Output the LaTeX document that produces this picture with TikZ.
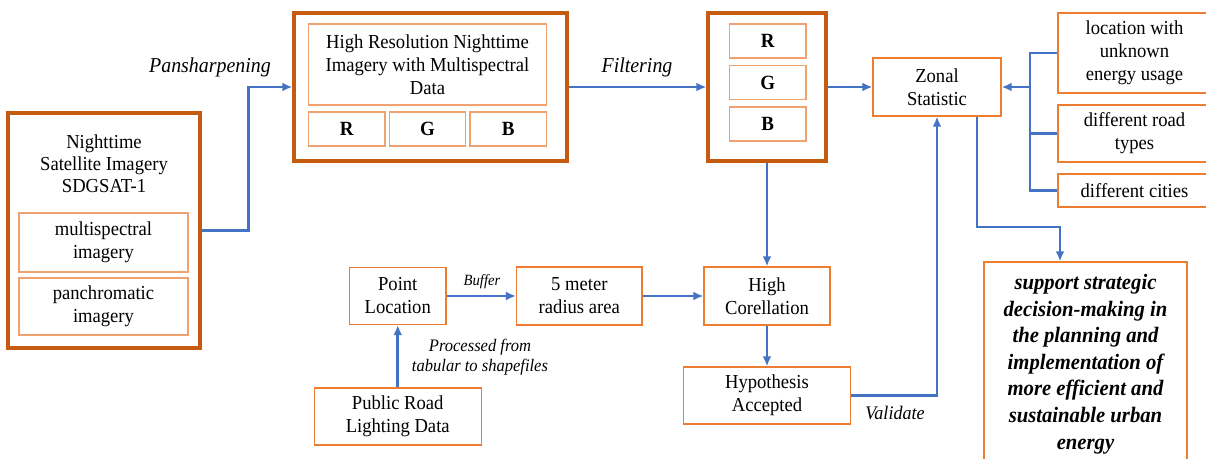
\documentclass[tikz,border=0pt]{standalone}
\usepackage{fontspec}
\setmainfont{Liberation Serif}[FakeStretch=0.94]
\usepackage{tikz}
\usetikzlibrary{arrows.meta}
\usetikzlibrary{calc}
\usetikzlibrary{positioning}

\definecolor{darkorange}{HTML}{C55A11}
\definecolor{lineorange}{HTML}{ED7D31}
\definecolor{paleorange}{HTML}{F0A170}
\definecolor{flowblue}{HTML}{4472C4}

\begin{document}
\begin{tikzpicture}[x=0.5pt, y=-0.5pt, >={Latex[length=5pt,width=4.5pt]},
    every node/.style={font=\fontsize{9.9}{11.5}\selectfont, align=center, inner sep=0pt},
    bigbox/.style={draw=darkorange, line width=1.7pt},
    thinbox/.style={draw=lineorange, line width=0.7pt},
    innerbox/.style={draw=paleorange, line width=0.7pt},
    band/.style={innerbox, minimum width=38.25pt, minimum height=17pt, font=\fontsize{10.1}{11.5}\selectfont\bfseries},
    flow/.style={draw=flowblue, line width=1.3pt},
    steplabel/.style={font=\fontsize{10.6}{12}\selectfont\itshape}]
  \path[use as bounding box] (0, 0) rectangle (1206, 459);

%%%%%%%%%%%% Satellite input
  \node[bigbox, minimum width=96pt, minimum height=117.5pt] at (104, 230.5) (sat) {};
  \node at (104, 164) (sattext) {Nighttime\\[-0.5pt]Satellite Imagery\\[-0.5pt]SDGSAT-1};
  \node[innerbox, minimum width=84.5pt, minimum height=29.5pt] at (103.5, 242.5) (multi) {multispectral\\imagery};
  \node[innerbox, minimum width=84.5pt, minimum height=28.5pt] at (103.5, 306.5) (pan) {panchromatic\\imagery};

%%%%%%%%%%%% Pansharpened imagery
  \node[bigbox, minimum width=136.5pt, minimum height=74pt] at (430.5, 87) (hires) {};
  \node[innerbox, minimum width=119pt, minimum height=40.5pt] at (427.5, 64.5) (hrtext)
    {High Resolution Nighttime\\Imagery with Multispectral\\Data};
  \node[band] at (346.75, 129) (r1) {R};
  \node[band] at (427.5, 129) (g1) {G};
  \node[band] at (508.25, 129) (b1) {B};

%%%%%%%%%%%% Filtered bands
  \node[bigbox, minimum width=59pt, minimum height=74pt] at (767, 87) (rgb) {};
  \node[band] at (767.75, 41) (r2) {R};
  \node[band] at (767.75, 82.5) (g2) {G};
  \node[band] at (767.75, 124) (b2) {B};

%%%%%%%%%%%% Zonal statistic and targets
  \node[thinbox, minimum width=64pt, minimum height=29pt] at (937, 87) (zonal) {Zonal\\Statistic};
  \node[thinbox, minimum width=76.5pt, minimum height=40pt] at (1134.5, 53) (loc) {location with\\unknown\\energy usage};
  \node[thinbox, minimum width=76.5pt, minimum height=28.5pt] at (1134.5, 133.5) (road) {different road\\types};
  \node[thinbox, minimum width=76.5pt, minimum height=16.5pt] at (1134.5, 190.5) (cities) {different cities};
  \node[thinbox, minimum width=101.5pt, minimum height=102pt,
        font=\fontsize{11}{13.3}\selectfont\bfseries\itshape] at (1085.5, 364) (support)
    {support strategic\\decision-making in\\the planning and\\implementation of\\more efficient and\\sustainable urban\\energy};

%%%%%%%%%%%% Road lighting branch
  \node[thinbox, minimum width=48.25pt, minimum height=28.5pt] at (397.75, 296) (point) {Point\\Location};
  \node[thinbox, minimum width=62.7pt, minimum height=29pt] at (579.3, 296) (area) {5 meter\\radius area};
  \node[thinbox, minimum width=83.5pt, minimum height=28.5pt] at (397.75, 416.5) (lighting) {Public Road\\Lighting Data};
  \node[thinbox, minimum width=63pt, minimum height=29pt] at (767, 296) (corr) {High\\Corellation};
  \node[thinbox, minimum width=83.5pt, minimum height=28.5pt] at (767, 395.5) (hyp) {Hypothesis\\Accepted};

%%%%%%%%%%%% Labels
  \node[steplabel] at (210, 67) (pansharp) {Pansharpening};
  \node[steplabel] at (637, 67) (filter) {Filtering};
  \node[steplabel, font=\fontsize{7.8}{9}\selectfont\itshape] at (482, 282) (buffer) {Buffer};
  \node[steplabel, font=\fontsize{8.8}{10}\selectfont\itshape] at (480, 357) (processed) {Processed from\\tabular to shapefiles};
  \node[steplabel, font=\fontsize{9.6}{11}\selectfont\itshape] at (895, 413) (validate) {Validate};

%%%%%%%%%%%% Connectors
  \coordinate (bus) at (1030, 87);
  \coordinate (turn) at (1060, 227);
  \draw[flow, ->] (sat.east) -- ++(47, 0) |- (hires.west);
  \draw[flow, ->] (hires.east) -- (rgb.west);
  \draw[flow, ->] (rgb.east) -- (zonal.west);
  \draw[flow] (loc.west) -| (bus) |- (cities.west);
  \draw[flow] (road.west) -- (road.west -| bus);
  \draw[flow, ->] (bus) -- (zonal.east);
  \draw[flow, ->] ([xshift=20pt]zonal.south) |- (turn) -- (turn |- support.north);
  \draw[flow, ->] (rgb.south) -- (corr.north);
  \draw[flow, ->] (corr.south) -- (hyp.north);
  \draw[flow, ->] (hyp.east) -| (zonal.south);
  \draw[flow, ->] (point.east) -- (area.west);
  \draw[flow, ->] (area.east) -- (corr.west);
  \draw[flow, ->] (lighting.north) -- (point.south);
\end{tikzpicture}
\end{document}
